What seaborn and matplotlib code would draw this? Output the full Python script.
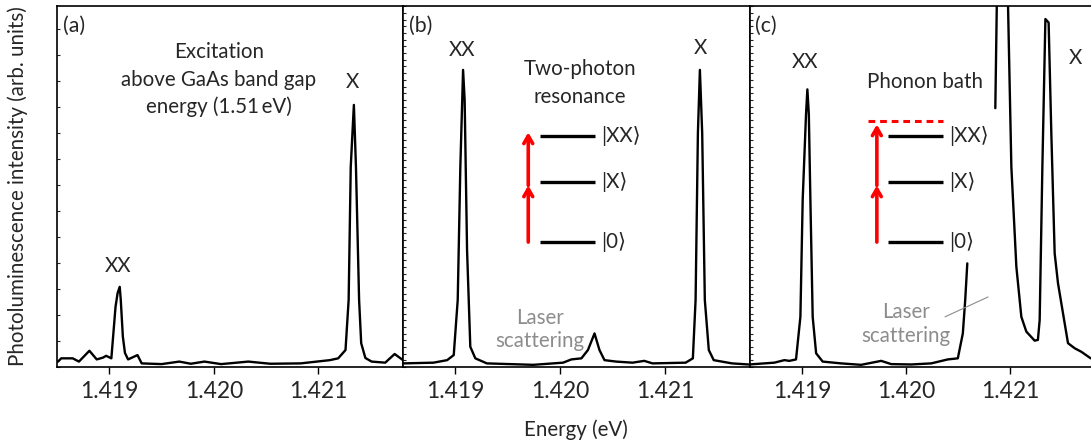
import numpy as np
import pandas as pd
import matplotlib
matplotlib.use("Agg")
import matplotlib.pyplot as plt
import seaborn as sns
from matplotlib.ticker import MultipleLocator, FixedLocator

sns.set_style("ticks")
plt.rcParams['font.family'] = ['Lato', 'DejaVu Sans']

# ---------------- data ----------------
# Panel (a): above-band-gap excitation
energy_a = [1.41851, 1.41854, 1.41865, 1.41871, 1.41881, 1.41888, 1.41894, 1.41897,
            1.41902, 1.41906, 1.41908, 1.41910, 1.41911, 1.41913, 1.41915, 1.41918,
            1.41927, 1.41931, 1.41950, 1.41967, 1.41978, 1.41991, 1.42007, 1.42033,
            1.42054, 1.42083, 1.42111, 1.42119, 1.42126, 1.42129, 1.42131, 1.42134,
            1.42136, 1.42139, 1.42141, 1.42145, 1.42151, 1.42164, 1.42173, 1.42181]
intens_a = [0.015, 0.024, 0.024, 0.015, 0.045, 0.021, 0.026, 0.031,
            0.024, 0.167, 0.205, 0.222, 0.186, 0.084, 0.039, 0.021,
            0.033, 0.010, 0.008, 0.015, 0.009, 0.015, 0.008, 0.015,
            0.009, 0.010, 0.019, 0.024, 0.047, 0.186, 0.554, 0.726,
            0.554, 0.186, 0.066, 0.025, 0.015, 0.012, 0.036, 0.019]

# Panel (b): two-photon resonance
energy_b = [1.418507, 1.418791, 1.418921, 1.418984, 1.419022, 1.419047, 1.419073,
            1.419088, 1.419111, 1.419142, 1.419190, 1.419300, 1.419742, 1.420027,
            1.420106, 1.420202, 1.420264, 1.420327, 1.420374, 1.420422, 1.420533,
            1.420690, 1.420801, 1.420880, 1.421196, 1.421265, 1.421291, 1.421313,
            1.421332, 1.421354, 1.421379, 1.421417, 1.421464, 1.421638, 1.421796]
intens_b = [0.010, 0.012, 0.019, 0.033, 0.186, 0.555, 0.823,
            0.740, 0.324, 0.056, 0.024, 0.010, 0.006, 0.012,
            0.021, 0.024, 0.047, 0.093, 0.047, 0.019, 0.015,
            0.012, 0.017, 0.010, 0.012, 0.024, 0.186, 0.648,
            0.823, 0.648, 0.186, 0.047, 0.019, 0.010, 0.007]

# Panel (c): phonon bath (two visible segments of the trace)
energy_c1 = [1.418493, 1.418734, 1.418830, 1.418878, 1.418942, 1.418984, 1.419006,
             1.419038, 1.419051, 1.419065, 1.419080, 1.419102, 1.419135, 1.419198,
             1.419375, 1.419567, 1.419760, 1.419856, 1.420048, 1.420240, 1.420400,
             1.420496, 1.420544, 1.420567, 1.420587]
intens_c1 = [0.007, 0.012, 0.019, 0.017, 0.021, 0.139, 0.463,
             0.700, 0.769, 0.700, 0.463, 0.139, 0.038, 0.015,
             0.010, 0.006, 0.017, 0.008, 0.007, 0.010, 0.021,
             0.024, 0.093, 0.186, 0.287]
energy_c2 = [1.420856, 1.420871, 1.420916, 1.420977, 1.421010, 1.421058, 1.421106,
             1.421154, 1.421234, 1.421265, 1.421282, 1.421308, 1.421337, 1.421368,
             1.421394, 1.421426, 1.421458, 1.421554, 1.421618, 1.421683, 1.421772]
intens_c2 = [0.717, 1.017, 2.000, 1.017, 0.555, 0.278, 0.139,
             0.098, 0.073, 0.075, 0.130, 0.555, 0.964, 0.954,
             0.647, 0.315, 0.232, 0.066, 0.052, 0.042, 0.024]

x_ticks = [1.419, 1.420, 1.421]
x_tick_labels = ["1.419", "1.420", "1.421"]
panel_labels = ["(a)", "(b)", "(c)"]
level_labels = ["|XX\u27e9", "|X\u27e9", "|0\u27e9"]

df_a = pd.DataFrame({"E": energy_a, "I": intens_a, "seg": 0})
df_b = pd.DataFrame({"E": energy_b, "I": intens_b, "seg": 0})
df_c = pd.concat([pd.DataFrame({"E": energy_c1, "I": intens_c1, "seg": 0}),
                  pd.DataFrame({"E": energy_c2, "I": intens_c2, "seg": 1})],
                 ignore_index=True)

# ---------------- figure ----------------
W, H = 1091, 448
fig = plt.figure(figsize=(W / 100, H / 100), dpi=100)
bottom = (H - 367) / H
height = 361 / H
ax_a = fig.add_axes([57 / W, bottom, 346 / W, height])
ax_b = fig.add_axes([403 / W, bottom, 347 / W, height])
ax_c = fig.add_axes([750 / W, bottom, 341 / W, height])

FS = 14.8
FS_TICK = 16.5
GREY = "#8c8c8c"
for ax, df in zip([ax_a, ax_b, ax_c], [df_a, df_b, df_c]):
    sns.lineplot(data=df, x="E", y="I", units="seg", estimator=None, sort=False,
                 color="black", lw=1.7, ax=ax)
    ax.set_xlim(1.41850, 1.42181)
    ax.set_ylim(0, 1)
    ax.xaxis.set_major_locator(FixedLocator(x_ticks))
    ax.set_xticklabels(x_tick_labels, fontsize=FS_TICK)
    ax.set_xlabel("")
    ax.set_ylabel("")
    ax.tick_params(axis="x", direction="out", length=5, width=1, pad=5, color="black")
    ax.tick_params(axis="y", which="both", direction="in", length=2.5, width=0.8,
                   labelleft=False, left=True)
    for s in ax.spines.values():
        s.set_linewidth(1.2)
        s.set_color("black")
        s.set_visible(True)
    ax.set_facecolor("white")

ax_c.set_xlim(1.41850, 1.421775)
ax_c.spines["right"].set_visible(False)
ax_a.yaxis.set_major_locator(MultipleLocator(0.072))
for ax in (ax_b, ax_c):
    ax.yaxis.set_major_locator(MultipleLocator(0.0185))

fig.text(18 / W, (H - 186) / H, "Photoluminescence intensity (arb. units)",
         rotation=90, ha="center", va="center", fontsize=FS)
fig.text(576 / W, (H - 430) / H, "Energy (eV)", ha="center", va="center", fontsize=FS)

for ax, lab in zip([ax_a, ax_b, ax_c], panel_labels):
    ax.text(0.016, 0.945, lab, transform=ax.transAxes, ha="left", va="center",
            fontsize=FS + 0.5)

T = dict(ha="center", va="center", fontsize=FS)
# panel (a)
ax_a.text(0.468, 0.873, "Excitation", transform=ax_a.transAxes, **T)
ax_a.text(0.468, 0.795, "above GaAs band gap", transform=ax_a.transAxes, **T)
ax_a.text(0.468, 0.720, "energy (1.51\u2009eV)", transform=ax_a.transAxes, **T)
ax_a.text(0.855, 0.789, "X", transform=ax_a.transAxes, **T)
ax_a.text(0.176, 0.280, "XX", transform=ax_a.transAxes, **T)

# panel (b)
ax_b.text(0.169, 0.878, "XX", transform=ax_b.transAxes, **T)
ax_b.text(0.856, 0.884, "X", transform=ax_b.transAxes, **T)
ax_b.text(0.510, 0.826, "Two-photon", transform=ax_b.transAxes, **T)
ax_b.text(0.510, 0.749, "resonance", transform=ax_b.transAxes, **T)
ax_b.text(0.395, 0.136, "Laser", transform=ax_b.transAxes, color=GREY, **T)
ax_b.text(0.395, 0.073, "scattering", transform=ax_b.transAxes, color=GREY, **T)

# panel (c)
ax_c.text(0.161, 0.845, "XX", transform=ax_c.transAxes, **T)
ax_c.text(0.953, 0.856, "X", transform=ax_c.transAxes, **T)
ax_c.text(0.513, 0.789, "Phonon bath", transform=ax_c.transAxes, **T)
ax_c.text(0.457, 0.152, "Laser", transform=ax_c.transAxes, color=GREY, **T)
ax_c.text(0.457, 0.087, "scattering", transform=ax_c.transAxes, color=GREY, **T)
ax_c.plot([0.572, 0.698], [0.139, 0.194], transform=ax_c.transAxes, color=GREY, lw=0.8)

level_y = [0.640, 0.512, 0.346]


def draw_levels(ax, x0, x1, xlab, xarrow, arrows):
    for yv, lab in zip(level_y, level_labels):
        ax.plot([x0, x1], [yv, yv], transform=ax.transAxes, color="black", lw=2.4,
                solid_capstyle="butt")
        ax.text(xlab, yv, lab, transform=ax.transAxes, ha="left", va="center",
                fontsize=FS)
    for (ya, yb) in arrows:
        ax.annotate("", xy=(xarrow, yb), xytext=(xarrow, ya),
                    xycoords="axes fraction", textcoords="axes fraction",
                    arrowprops=dict(arrowstyle="->,head_length=0.55,head_width=0.32",
                                    color="red", lw=2.6, shrinkA=0, shrinkB=0))


draw_levels(ax_b, 0.395, 0.553, 0.572, 0.361, [(0.346, 0.503), (0.503, 0.650)])
draw_levels(ax_c, 0.405, 0.566, 0.583, 0.372, [(0.346, 0.503), (0.503, 0.672)])
ax_c.plot([0.346, 0.566], [0.681, 0.681], transform=ax_c.transAxes, color="red",
          lw=2.2, ls=(0, (2.2, 1.6)))

fig.savefig("out.png", dpi=100, facecolor="white")
